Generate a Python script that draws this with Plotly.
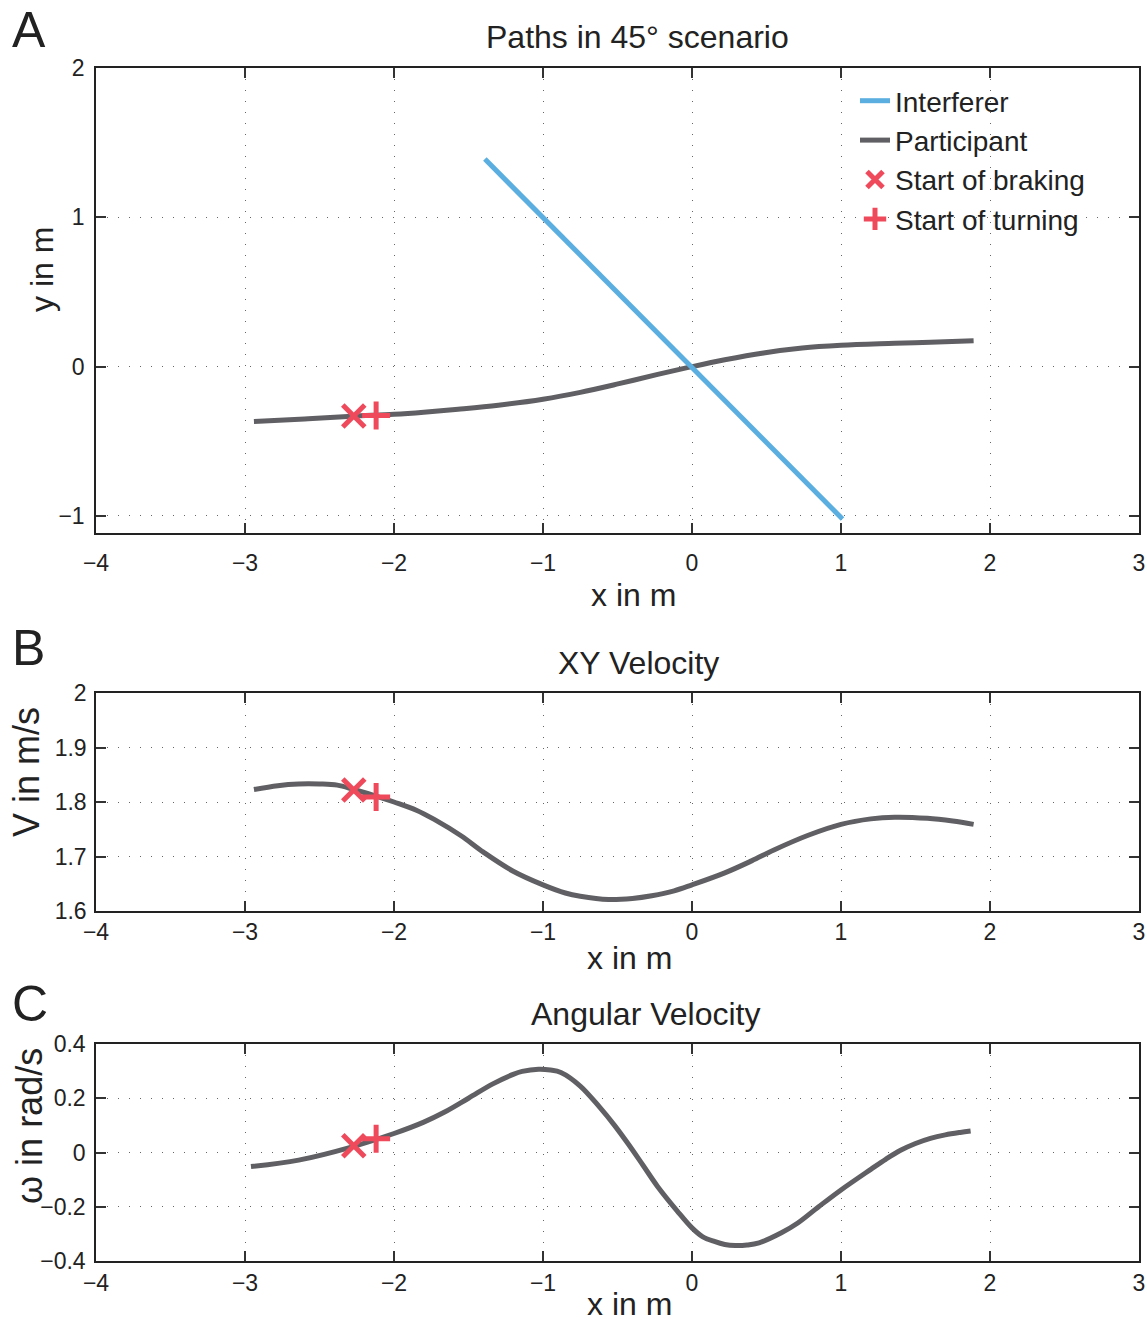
import plotly.graph_objects as go

# ---------------- data ----------------
# Panel A: paths
interferer_x = [-1.39, 1.01]
interferer_y = [1.39, -1.02]
path_x = [-2.94, -2.6, -2.28, -2.0, -1.8, -1.57, -1.3, -1.0, -0.75, -0.49, -0.23, 0.0, 0.22, 0.48, 0.74, 1.0, 1.36, 1.6, 1.89]
path_y = [-0.368, -0.35, -0.332, -0.319, -0.305, -0.285, -0.258, -0.218, -0.172, -0.114, -0.052, 0.0, 0.046, 0.092, 0.125, 0.143, 0.156, 0.164, 0.174]

# Panel B: XY velocity
vel_x = [-2.94, -2.78, -2.64, -2.5, -2.38, -2.27, -2.11, -2.0, -1.85, -1.73, -1.55, -1.40, -1.2, -1.0, -0.85, -0.75, -0.56, -0.4, -0.27, -0.12, 0.0, 0.22, 0.4, 0.55, 0.78, 1.0, 1.2, 1.36, 1.58, 1.75, 1.89]
vel_y = [1.823, 1.830, 1.833, 1.833, 1.831, 1.823, 1.810, 1.800, 1.785, 1.768, 1.738, 1.708, 1.673, 1.648, 1.633, 1.627, 1.621, 1.623, 1.628, 1.637, 1.648, 1.670, 1.692, 1.712, 1.739, 1.759, 1.769, 1.772, 1.770, 1.765, 1.759]

# Panel C: angular velocity
ang_x = [-2.96, -2.64, -2.28, -2.0, -1.8, -1.66, -1.5, -1.34, -1.2, -1.14, -1.03, -0.95, -0.88, -0.75, -0.62, -0.52, -0.43, -0.33, -0.23, -0.1, 0.0, 0.07, 0.15, 0.22, 0.29, 0.37, 0.45, 0.6, 0.71, 0.85, 1.0, 1.2, 1.3, 1.4, 1.5, 1.6, 1.7, 1.8, 1.87]
ang_y = [-0.052, -0.028, 0.021, 0.070, 0.112, 0.149, 0.200, 0.252, 0.288, 0.299, 0.307, 0.304, 0.295, 0.245, 0.167, 0.100, 0.033, -0.046, -0.126, -0.215, -0.278, -0.310, -0.328, -0.339, -0.343, -0.341, -0.333, -0.296, -0.260, -0.200, -0.138, -0.062, -0.025, 0.008, 0.033, 0.052, 0.065, 0.074, 0.079]

# Events
brake_x = -2.27
turn_x = -2.12
brake_y = [-0.33, 1.822, 0.025]   # panels A, B, C
turn_y = [-0.327, 1.809, 0.051]

# Ticks
x_ticks = [-4, -3, -2, -1, 0, 1, 2, 3]
x_ticktext = ["\u22124", "\u22123", "\u22122", "\u22121", "0", "1", "2", "3"]
ya_ticks = [-1, 0, 1, 2]
ya_ticktext = ["\u22121", "0", "1", "2"]
yb_ticks = [1.6, 1.7, 1.8, 1.9, 2.0]
yb_ticktext = ["1.6", "1.7", "1.8", "1.9", "2"]
yc_ticks = [-0.4, -0.2, 0, 0.2, 0.4]
yc_ticktext = ["\u22120.4", "\u22120.2", "0", "0.2", "0.4"]

# ---------------- style ----------------
W, H = 1147, 1322
GRAY = "#606064"
BLUE = "#5aaee0"
RED = "#ef4a5c"
TXT = "#222222"
FONT = "Liberation Sans, Arial, Helvetica, sans-serif"


def px_x(p):
    return p / W


def px_y(p):
    return 1 - p / H


fig = go.Figure()

# Panel A
fig.add_trace(go.Scatter(x=path_x, y=path_y, mode="lines", name="Participant",
                         line=dict(color=GRAY, width=5, shape="spline"),
                         legendrank=2, xaxis="x", yaxis="y"))
fig.add_trace(go.Scatter(x=interferer_x, y=interferer_y, mode="lines", name="Interferer",
                         line=dict(color=BLUE, width=5),
                         legendrank=1, xaxis="x", yaxis="y"))

axes_ids = [("x", "y"), ("x2", "y2"), ("x3", "y3")]
curves = [None, (vel_x, vel_y), (ang_x, ang_y)]
for i, (xa, ya) in enumerate(axes_ids):
    if curves[i] is not None:
        cx, cy = curves[i]
        fig.add_trace(go.Scatter(x=cx, y=cy, mode="lines", showlegend=False,
                                 line=dict(color=GRAY, width=5, shape="spline"),
                                 xaxis=xa, yaxis=ya))
    fig.add_trace(go.Scatter(x=[brake_x], y=[brake_y[i]], mode="markers",
                             name="Start of braking", showlegend=(i == 0), legendrank=3,
                             marker=dict(symbol="x-thin", size=22, color=RED,
                                         line=dict(color=RED, width=5)),
                             xaxis=xa, yaxis=ya))
    fig.add_trace(go.Scatter(x=[turn_x], y=[turn_y[i]], mode="markers",
                             name="Start of turning", showlegend=(i == 0), legendrank=4,
                             marker=dict(symbol="cross-thin", size=20, color=RED,
                                         line=dict(color=RED, width=5)),
                             xaxis=xa, yaxis=ya))

common = dict(ticks="inside", ticklen=10, tickwidth=1.5, tickcolor="#333333",
              showline=True, linecolor="#222222", linewidth=1.5, mirror="allticks",
              showgrid=True, gridcolor="#666666", gridwidth=1, griddash="1px,10px",
              zeroline=False, automargin=False,
              tickfont=dict(size=23, color=TXT, family=FONT))

xdom = [px_x(96), px_x(1139)]
doms = [(68, 533), (693, 911), (1044, 1261)]
yranges = [[-1.114, 2], [1.6, 2.0], [-0.4, 0.4]]
yticks = [(ya_ticks, ya_ticktext), (yb_ticks, yb_ticktext), (yc_ticks, yc_ticktext)]
x_standoff = [9, 0, 1]
y_standoff = [5, 3, 4]

layout = {}
for i, (xa, ya) in enumerate(axes_ids):
    top, bot = doms[i]
    xkey = "xaxis" if i == 0 else "xaxis%d" % (i + 1)
    ykey = "yaxis" if i == 0 else "yaxis%d" % (i + 1)
    layout[xkey] = dict(common, domain=xdom, range=[-4, 3], tickvals=x_ticks,
                        ticktext=x_ticktext, anchor=ya, ticklabelstandoff=x_standoff[i])
    layout[ykey] = dict(common, domain=[px_y(bot), px_y(top)], range=yranges[i],
                        tickvals=yticks[i][0], ticktext=yticks[i][1], anchor=xa,
                        ticklabelstandoff=y_standoff[i])

annotations = []


def add_text(text, x, y, size, angle=0, xanchor="center"):
    annotations.append(dict(text=text, x=px_x(x), y=px_y(y), xref="paper", yref="paper",
                            xanchor=xanchor, yanchor="middle", showarrow=False,
                            textangle=angle, font=dict(size=size, color=TXT, family=FONT)))


# panel letters
add_text("A", 10, 30, 50, xanchor="left")
add_text("B", 10, 648, 50, xanchor="left")
add_text("C", 10, 1004, 50, xanchor="left")
# titles
add_text("Paths in 45\u00b0 scenario", 637, 37, 32)
add_text("XY Velocity", 638, 663, 32)
add_text("Angular Velocity", 645, 1014, 32)
# x titles
add_text("x in m", 633, 595, 32)
add_text("x in m", 629, 958, 32)
add_text("x in m", 629, 1304, 32)
# y titles
add_text("y in m", 42, 270, 32, angle=-90)
add_text("V in m/s", 26, 772, 36, angle=-90)
add_text("\u03c9 in rad/s", 29, 1126, 36, angle=-90)

fig.update_layout(
    template="none",
    width=W, height=H, margin=dict(l=0, r=0, t=0, b=0, pad=0, autoexpand=False),
    paper_bgcolor="white", plot_bgcolor="white",
    font=dict(family=FONT, color=TXT),
    showlegend=True,
    legend=dict(x=px_x(855), y=px_y(76), xanchor="left", yanchor="top",
                bgcolor="rgba(0,0,0,0)", borderwidth=0, itemwidth=30,
                font=dict(size=28, color=TXT, family=FONT), tracegroupgap=0),
    annotations=annotations,
    **layout,
)

fig.write_html("out.html")
